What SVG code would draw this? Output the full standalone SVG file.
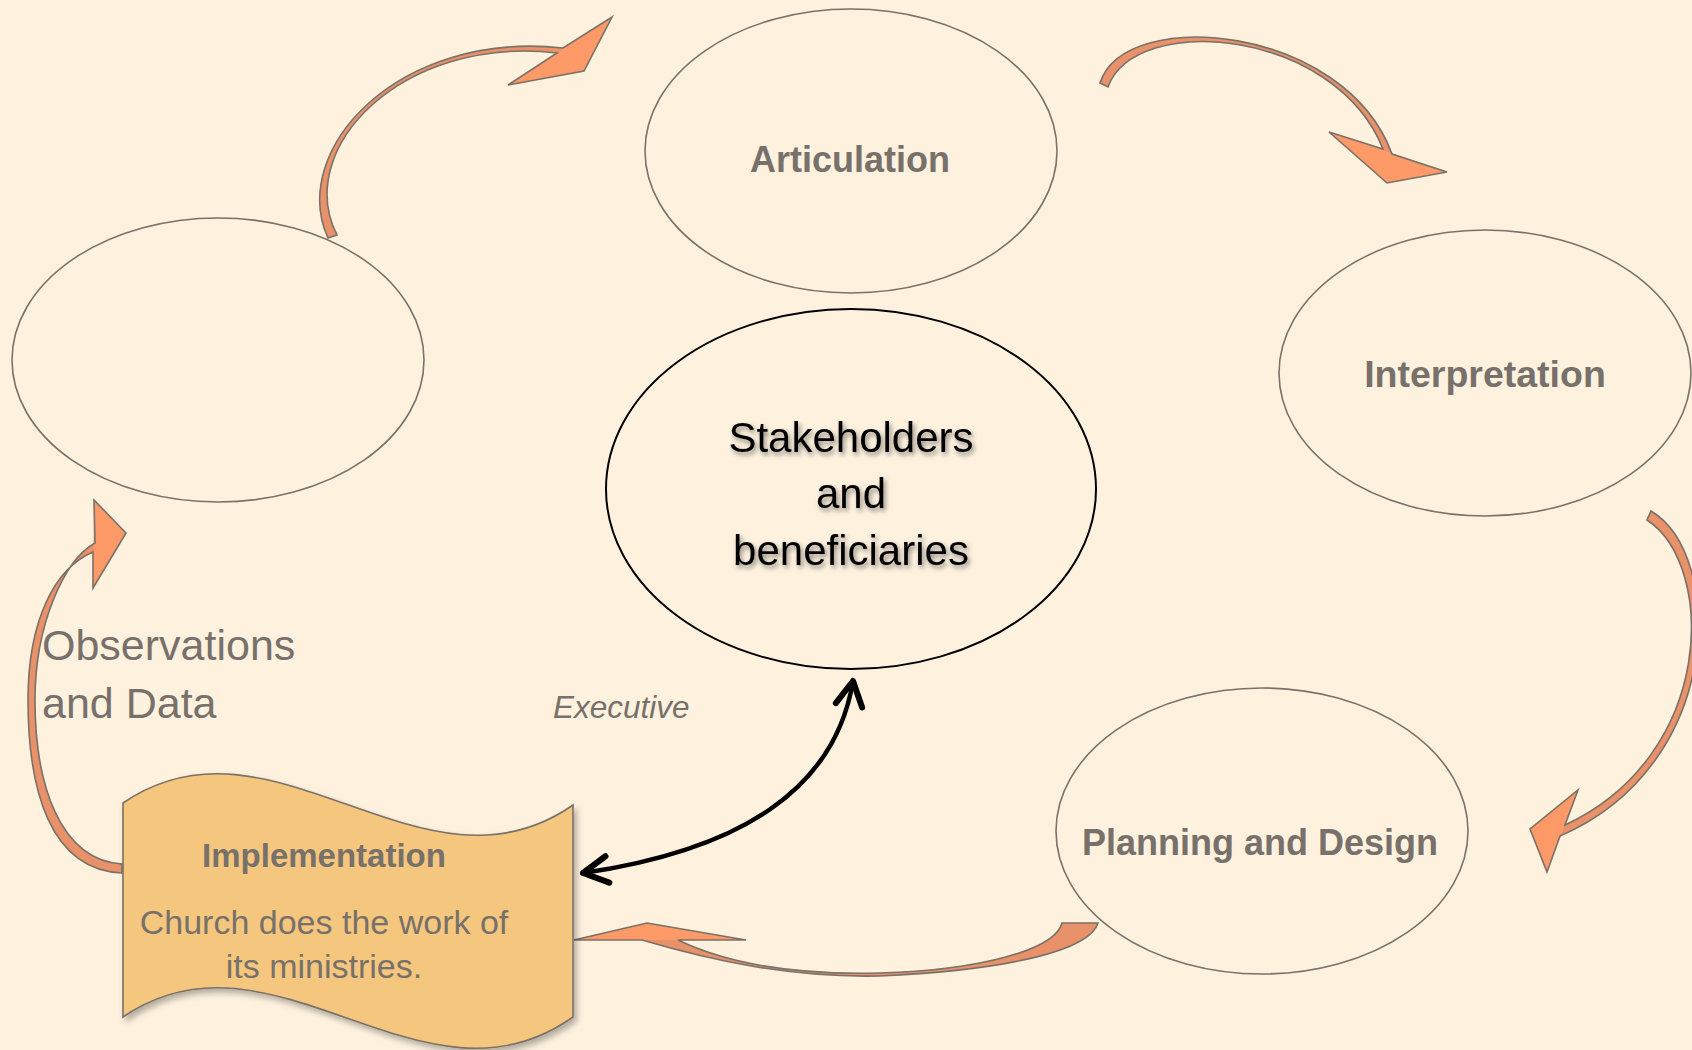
<svg xmlns="http://www.w3.org/2000/svg" width="1692" height="1050" viewBox="0 0 1692 1050">
<style>
.oval{fill:none;stroke:#7a7168;stroke-width:1.6}
.center{fill:none;stroke:#000;stroke-width:2}
.lbl{font-family:"Liberation Sans",Arial,sans-serif;font-weight:bold;font-size:36px;fill:#78706a;text-anchor:middle}
.reg{font-family:"Liberation Sans",Arial,sans-serif;fill:#78706a}
.body{fill:#E9926A}
.head{fill:#FD9A68}
.outline{fill:none;stroke:#7a7168;stroke-width:1.6;stroke-linejoin:miter}
</style>
<defs>
<filter id="sh" x="-10%" y="-10%" width="130%" height="130%"><feDropShadow dx="3" dy="4" stdDeviation="3" flood-color="#000" flood-opacity="0.3"/></filter>
<filter id="tsh" x="-10%" y="-20%" width="130%" height="150%"><feDropShadow dx="2" dy="3" stdDeviation="2.5" flood-color="#000" flood-opacity="0.45"/></filter>
<marker id="chev" markerUnits="userSpaceOnUse" markerWidth="40" markerHeight="40" viewBox="-25 -15 30 30" refX="0" refY="0" orient="auto-start-reverse" overflow="visible">
<path d="M-18.5,-10 L0,0 L-18.5,10" fill="none" stroke="#000" stroke-width="4.5" stroke-linecap="round" stroke-linejoin="round"/>
</marker>
</defs>
<rect width="1692" height="1050" fill="#FEF2DF"/>

<g id="connectors">
<g id="arrow-obs-articulation">
<path class="body" d="M 328,238 C 288,150 398,30 563,48 L 612,17 L 584,71 L 508,85 L 557,53 C 401,35 293,149 337,235 Z"/>
<polygon class="head" points="508,85 612,17 584,71"/>
<path class="outline" d="M 328,238 C 288,150 398,30 563,48 L 612,17 L 584,71 L 508,85 L 557,53 C 401,35 293,149 337,235 Z"/>
</g>
<g id="arrow-articulation-interpretation">
<path class="body" d="M 1100,83 C 1125,5 1345,25 1392,154 L 1447,172 L 1387,183 L 1329,132 L 1383,149 C 1335,28 1135,12 1108,87 Z"/>
<polygon class="head" points="1329,132 1447,172 1387,183"/>
<path class="outline" d="M 1100,83 C 1125,5 1345,25 1392,154 L 1447,172 L 1387,183 L 1329,132 L 1383,149 C 1335,28 1135,12 1108,87 Z"/>
</g>
<g id="arrow-interpretation-planning">
<path class="body" d="M 1651,511 C 1725,555 1725,765 1560,836 L 1547,872 L 1530,829 L 1578,790 L 1565,825 C 1716,755 1716,565 1647,520 Z"/>
<polygon class="head" points="1578,790 1547,872 1530,829"/>
<path class="outline" d="M 1651,511 C 1725,555 1725,765 1560,836 L 1547,872 L 1530,829 L 1578,790 L 1565,825 C 1716,755 1716,565 1647,520 Z"/>
</g>
<g id="arrow-planning-implementation">
<path class="body" d="M 574,940 L 647,923 L 746,940 L 678,940 C 730,965 800,975 880,973 C 980,970 1055,950 1062,923 L 1098,923 C 1090,950 1010,970 880,976 C 790,978 710,960 642,940 Z"/>
<polygon class="head" points="574,940 647,923 746,940"/>
<path class="outline" d="M 574,940 L 647,923 L 746,940 L 678,940 C 730,965 800,975 880,973 C 980,970 1055,950 1062,923 L 1098,923 C 1090,950 1010,970 880,976 C 790,978 710,960 642,940 Z"/>
</g>
<g id="arrow-implementation-observations">
<path class="body" d="M 122,873 C 50,870 28,790 28,700 C 28,620 55,568 93,552 L 93,588 L 126,533 L 94,500 L 95,543 C 64,560 35,625 35,700 C 35,785 60,860 122,864 Z"/>
<polygon class="head" points="94,500 126,533 93,588"/>
<path class="outline" d="M 122,873 C 50,870 28,790 28,700 C 28,620 55,568 93,552 L 93,588 L 126,533 L 94,500 L 95,543 C 64,560 35,625 35,700 C 35,785 60,860 122,864 Z"/>
</g>
<path id="executive-link" d="M 853,681 C 835,790 740,850 583,873" fill="none" stroke="#000" stroke-width="4.5" stroke-linecap="round" marker-start="url(#chev)" marker-end="url(#chev)"/>
<text class="reg" x="553" y="718" font-size="31.5" font-style="italic">Executive</text>
</g>

<g id="node-observations">
<ellipse class="oval" cx="218" cy="360" rx="206" ry="142"/>
</g>
<g id="node-articulation">
<ellipse class="oval" cx="851" cy="151" rx="206" ry="142"/>
<text class="lbl" x="850" y="172" font-size="36.5">Articulation</text>
</g>
<g id="node-interpretation">
<ellipse class="oval" cx="1485" cy="373" rx="206" ry="143"/>
<text class="lbl" x="1485" y="387" style="font-size:37.5px">Interpretation</text>
</g>
<g id="node-planning">
<ellipse class="oval" cx="1262" cy="831" rx="206" ry="143"/>
<text class="lbl" x="1260" y="855">Planning and Design</text>
</g>
<g id="node-stakeholders">
<ellipse class="center" cx="851" cy="489" rx="245" ry="180"/>
<g filter="url(#tsh)" font-family="'Liberation Sans',Arial,sans-serif" font-size="42" fill="#000" text-anchor="middle">
<text x="851" y="452">Stakeholders</text>
<text x="851" y="508">and</text>
<text x="851" y="565">beneficiaries</text>
</g>
</g>
<g id="label-observations">
<text class="reg" x="42" y="660" font-size="43">Observations</text>
<text class="reg" x="42" y="718" font-size="43">and Data</text>
</g>
<g id="node-implementation">
<path d="M 123,803 C 273,700 423,910 573,805 L 573,1017 C 423,1124 273,914 123,1017 Z" fill="#F5C77E" stroke="#7a7168" stroke-width="1.6" filter="url(#sh)"/>
<text class="reg" x="324" y="867" font-size="33" font-weight="bold" text-anchor="middle">Implementation</text>
<text class="reg" x="324" y="934" font-size="34" text-anchor="middle">Church does the work of</text>
<text class="reg" x="324" y="978" font-size="34" text-anchor="middle">its ministries.</text>
</g>
</svg>
